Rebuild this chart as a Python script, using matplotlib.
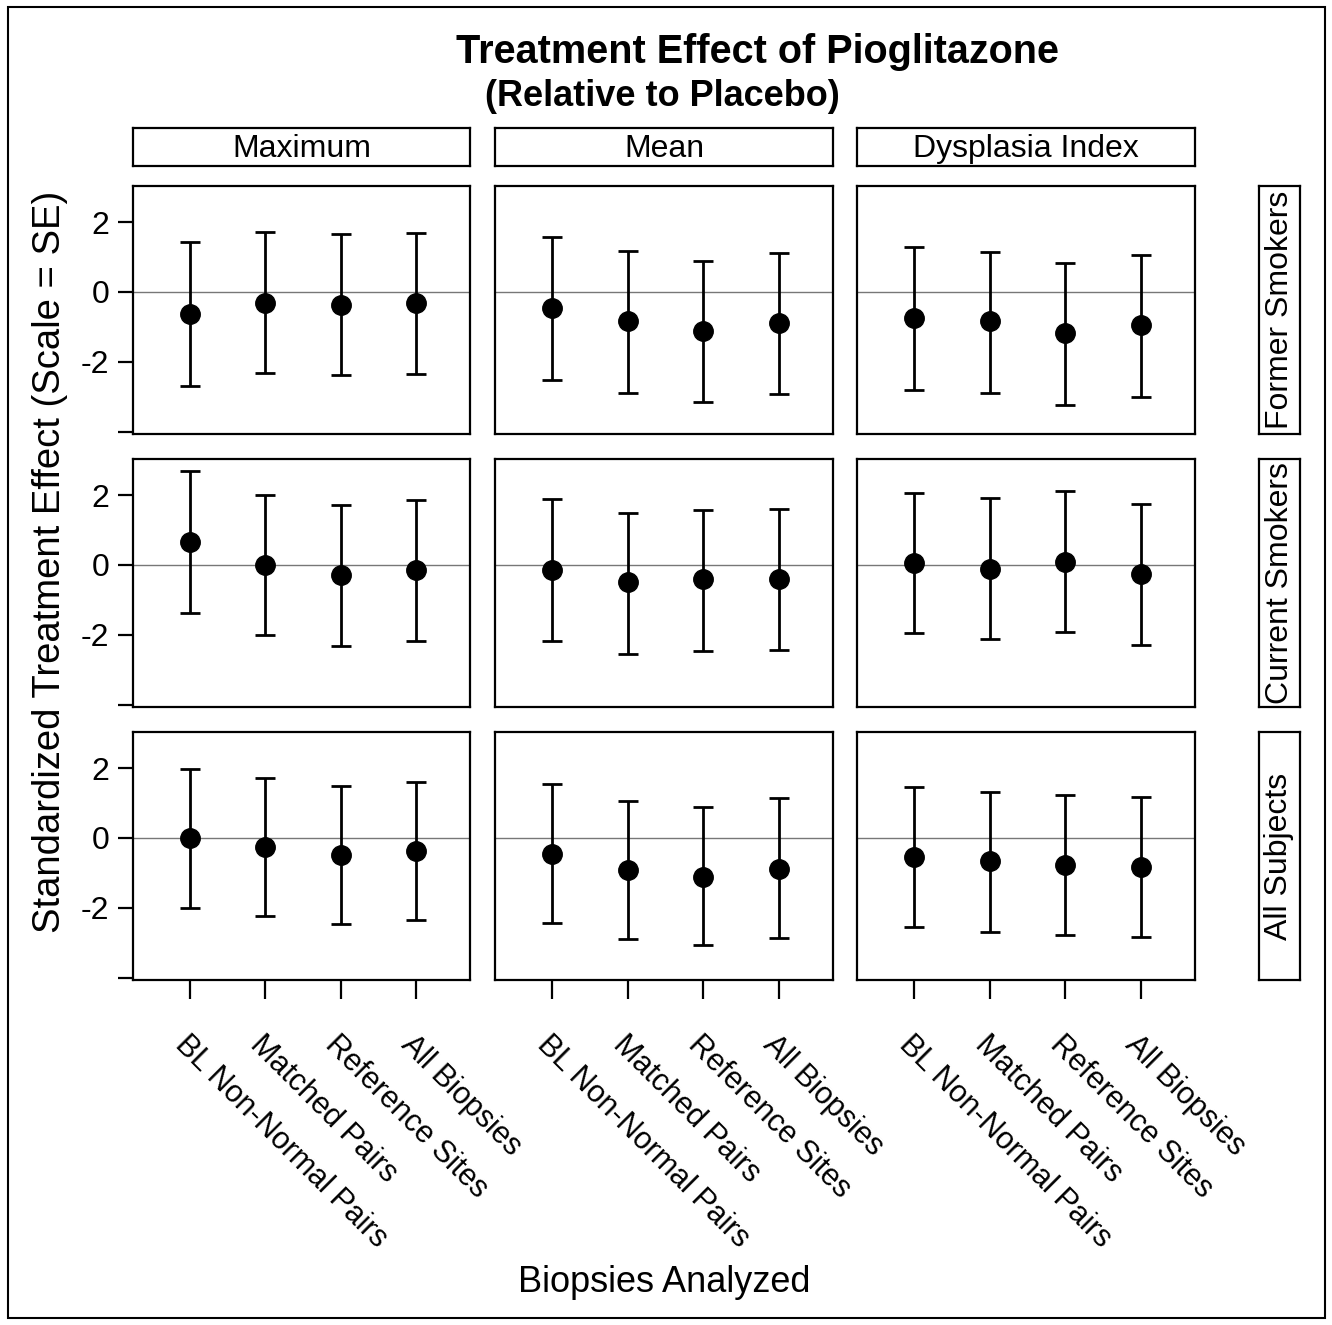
import matplotlib
matplotlib.use("Agg")
import matplotlib.pyplot as plt
from matplotlib.patches import Rectangle

plt.rcParams['font.family'] = ['Liberation Sans', 'DejaVu Sans']

W, H = 1332, 1325

measures = ["Maximum", "Mean", "Dysplasia Index"]
groups = ["Former Smokers", "Current Smokers", "All Subjects"]
biopsies = ["BL Non-Normal Pairs", "Matched Pairs", "Reference Sites", "All Biopsies"]

# estimates, rows = groups, cols = measures
est_former = [[-0.63, -0.31, -0.37, -0.31],
              [-0.46, -0.83, -1.11, -0.89],
              [-0.74, -0.83, -1.17, -0.94]]
low_former = [[-2.69, -2.31, -2.37, -2.34],
              [-2.51, -2.89, -3.14, -2.91],
              [-2.80, -2.89, -3.23, -3.00]]
up_former = [[1.43, 1.71, 1.66, 1.69],
             [1.57, 1.17, 0.89, 1.11],
             [1.29, 1.14, 0.83, 1.06]]

est_current = [[0.66, 0.00, -0.29, -0.14],
               [-0.14, -0.49, -0.40, -0.40],
               [0.06, -0.11, 0.09, -0.26]]
low_current = [[-1.37, -2.00, -2.31, -2.17],
               [-2.17, -2.54, -2.46, -2.43],
               [-1.94, -2.11, -1.91, -2.29]]
up_current = [[2.69, 2.00, 1.71, 1.86],
              [1.89, 1.49, 1.57, 1.60],
              [2.06, 1.91, 2.11, 1.74]]

est_all = [[0.00, -0.26, -0.49, -0.37],
           [-0.46, -0.91, -1.11, -0.89],
           [-0.54, -0.66, -0.77, -0.83]]
low_all = [[-2.00, -2.23, -2.46, -2.34],
           [-2.43, -2.89, -3.06, -2.86],
           [-2.54, -2.69, -2.77, -2.83]]
up_all = [[1.97, 1.71, 1.49, 1.60],
          [1.54, 1.06, 0.89, 1.14],
          [1.46, 1.31, 1.23, 1.17]]

est = [est_former, est_current, est_all]
low = [low_former, low_current, low_all]
up = [up_former, up_current, up_all]


def box(x0, y0, x1, y1):
    return [x0 / W, 1 - y1 / H, (x1 - x0) / W, (y1 - y0) / H]


fig = plt.figure(figsize=(W / 100, H / 100), dpi=100)
fig.patches.append(Rectangle((8 / W, 7 / H), 1317 / W, 1311 / H, transform=fig.transFigure,
                             fill=False, lw=1.5, color='black'))

col_x = [(133, 470), (495, 833), (857, 1195)]
row_y = [(186, 434), (459, 707), (732, 980)]
xs = [1, 2, 3, 4]

for r in range(3):
    for c in range(3):
        ax = fig.add_axes(box(col_x[c][0], row_y[r][0], col_x[c][1], row_y[r][1]))
        y = est[r][c]
        lo = [y[i] - low[r][c][i] for i in range(4)]
        hi = [up[r][c][i] - y[i] for i in range(4)]
        ax.axhline(0, color='#777777', lw=1.0, zorder=1)
        ax.errorbar(xs, y, yerr=[lo, hi], fmt='o', color='black', ms=14,
                    elinewidth=2.0, capsize=7, capthick=2.0, zorder=3)
        ax.set_xlim(0.24, 4.72)
        ax.set_ylim(-4.06, 3.03)
        for s in ax.spines.values():
            s.set_linewidth(1.6)
        ax.tick_params(direction='out', length=11, width=1.6, labelsize=23, pad=6)
        if c == 0:
            ax.set_yticks([-4, -2, 0, 2])
            ax.set_yticklabels(['', '-2', '0', '2'])
        else:
            ax.set_yticks([])
        if r == 2:
            ax.set_xticks(xs)
            ax.set_xticklabels(biopsies, rotation=-45, ha='left', va='top',
                               rotation_mode='anchor', fontsize=22)
            ax.tick_params(axis='x', length=14, pad=22)
        else:
            ax.set_xticks([])

# column strips
for c in range(3):
    sax = fig.add_axes(box(col_x[c][0], 128, col_x[c][1], 166))
    sax.set_xticks([])
    sax.set_yticks([])
    for s in sax.spines.values():
        s.set_linewidth(1.6)
    sax.text(0.5, 0.45, measures[c], ha='center', va='center', fontsize=23,
             transform=sax.transAxes)

# row strips
for r in range(3):
    sax = fig.add_axes(box(1259, row_y[r][0], 1300, row_y[r][1]))
    sax.set_xticks([])
    sax.set_yticks([])
    for s in sax.spines.values():
        s.set_linewidth(1.6)
    sax.text(0.5, 0.5, groups[r], ha='center', va='center', fontsize=23,
             rotation=90, transform=sax.transAxes)

fig.text(757 / W, 1 - 52 / H, "Treatment Effect of Pioglitazone", ha='center', va='center',
         fontsize=28.5, fontweight='bold')
fig.text(662 / W, 1 - 97 / H, "(Relative to Placebo)", ha='center', va='center',
         fontsize=26, fontweight='bold')
fig.text(664 / W, 1 - 1283 / H, "Biopsies Analyzed", ha='center', va='center', fontsize=26)
fig.text(50 / W, 1 - 562 / H, "Standardized Treatment Effect (Scale = SE)", ha='center',
         va='center', rotation=90, fontsize=27.5)

fig.savefig("out.png", dpi=100)
